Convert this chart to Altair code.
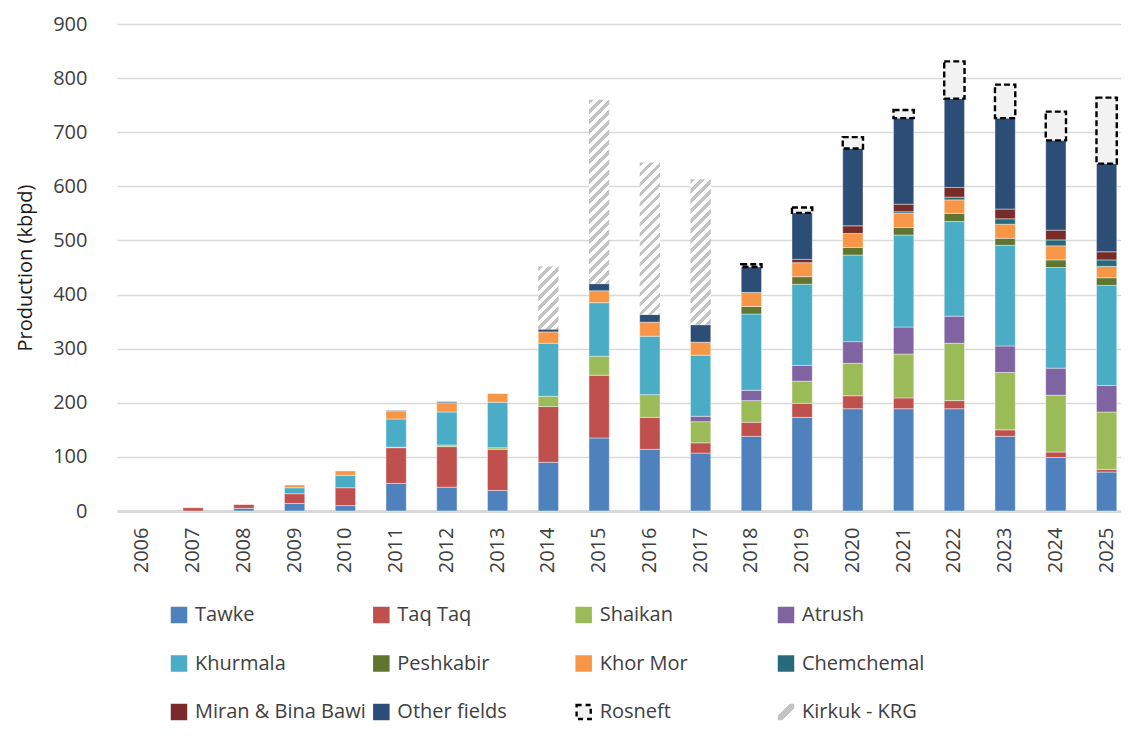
import altair as alt
import pandas as pd

years = [str(y) for y in range(2006, 2026)]

tawke      = [0, 0, 5, 14, 10, 51, 44, 38, 90, 135, 114, 107, 138, 173, 189, 189, 189, 138, 99, 72]
taq_taq    = [0, 6, 7, 18, 33, 66, 75, 76, 103, 116, 59, 19, 26, 26, 24, 20, 15, 12, 10, 5]
shaikan    = [0, 0, 0, 0, 0, 1, 3, 3, 19, 35, 42, 39, 40, 41, 60, 81, 106, 106, 105, 106]
atrush     = [0, 0, 0, 0, 0, 0, 0, 0, 0, 0, 0, 10, 19, 29, 40, 50, 50, 49, 50, 49]
khurmala   = [0, 0, 0, 11, 23, 52, 61, 84, 98, 99, 108, 113, 141, 150, 160, 170, 175, 186, 186, 185]
peshkabir  = [0, 0, 0, 0, 0, 0, 0, 0, 0, 0, 0, 0, 14, 14, 14, 14, 15, 13, 14, 14]
khor_mor   = [0, 0, 1, 5, 8, 15, 17, 16, 21, 22, 26, 24, 26, 26, 26, 26, 25, 26, 26, 21]
chemchemal = [0, 0, 0, 0, 0, 0, 0, 0, 0, 0, 0, 0, 0, 0, 0, 3, 5, 10, 11, 12]
miran      = [0, 0, 0, 0, 0, 0, 0, 0, 0, 0, 0, 0, 0, 6, 14, 14, 18, 18, 18, 15]
other      = [0, 0, 0, 0, 0, 1, 2, 0, 5, 13, 14, 32, 47, 86, 143, 159, 164, 168, 166, 163]
rosneft    = [0, 0, 0, 0, 0, 0, 0, 0, 0, 0, 0, 0, 5, 10, 21, 15, 69, 62, 53, 122]
kirkuk     = [0, 0, 0, 0, 0, 0, 0, 0, 116, 340, 281, 269, 0, 0, 0, 0, 0, 0, 0, 0]

field_names = ["Tawke", "Taq Taq", "Shaikan", "Atrush", "Khurmala", "Peshkabir",
               "Khor Mor", "Chemchemal", "Miran & Bina Bawi", "Other fields"]
field_colors = ["#4f81bd", "#c0504d", "#9bbb59", "#8064a2", "#4bacc6", "#5f7530",
                "#f79646", "#276a7c", "#772c2a", "#2c4d75"]
all_series = field_names + ["Rosneft", "Kirkuk - KRG"]
series_values = [tawke, taq_taq, shaikan, atrush, khurmala, peshkabir, khor_mor,
                 chemchemal, miran, other, rosneft, kirkuk]

rows = []
for order, (name, vals) in enumerate(zip(all_series, series_values)):
    for y, v in zip(years, vals):
        rows.append({"year": y, "series": name, "value": v, "order": order})
df = pd.DataFrame(rows)

# ---- layout constants
W, H = 1004, 487          # visible plot area
XRANGE = 1015             # band range (continues slightly past the right edge)
YMAX = 900
PAD_IN = 0.6
bandw = XRANGE / len(years) * (1 - PAD_IN)
FONT = "Open Sans"
TXT = "#404040"
HATCH = "#c3c3c3"

xscale = alt.Scale(domain=years, range=[0, XRANGE], paddingInner=PAD_IN, paddingOuter=PAD_IN / 2)
yscale = alt.Scale(domain=[0, YMAX], nice=False)

xaxis = alt.Axis(title=None, labelAngle=270, labelPadding=16, ticks=False,
                 domain=True, domainColor="#d9d9d9", domainWidth=3,
                 labelFontSize=20, labelFont=FONT, labelColor=TXT, grid=False)
yaxis = alt.Axis(title="Production (kbpd)", values=list(range(0, 1000, 100)),
                 grid=True, gridColor="#d9d9d9", gridWidth=1.6, domain=False,
                 ticks=False, labelPadding=30, labelFontSize=20, labelFont=FONT,
                 labelColor=TXT, titleFontSize=20, titleFont=FONT,
                 titleFontWeight="normal", titleColor="#1a1a1a",
                 titleX=-92, titleY=H / 2, titleAlign="center",
                 titleBaseline="middle", titleAngle=270)

base = alt.Chart(df).transform_filter(alt.datum.value > 0).transform_stack(
    stack="value", groupby=["year"], as_=["v0", "v1"],
    sort=[alt.SortField("order", order="ascending")])

fields = base.transform_filter(alt.datum.order < 10).mark_bar(
    stroke="white", strokeWidth=0.6, strokeOpacity=0.7).encode(
    x=alt.X("year:N", scale=xscale, axis=xaxis, sort=years),
    y=alt.Y("v0:Q", scale=yscale, axis=yaxis),
    y2="v1:Q",
    color=alt.Color("series:N", scale=alt.Scale(domain=field_names, range=field_colors),
                    legend=None),
)

ros = base.transform_filter(alt.datum.series == "Rosneft").mark_bar(
    fill="#f2f2f2", stroke="black", strokeDash=[6, 3], strokeWidth=2.4).encode(
    x=alt.X("year:N", scale=xscale, axis=None, sort=years),
    y=alt.Y("v0:Q", scale=yscale, axis=None),
    y2="v1:Q",
)


def hatch(h, w, period=10.0, on=4.5):
    ratio = h / w
    denom = w * (1 + ratio ** 2)
    stops = []
    c = -period
    while c < w + h + period:
        a = max(c, 0.0) / denom
        b = max(c + on, 0.0) / denom
        e = max(c + period, 0.0) / denom
        stops += [{"offset": min(a, 1), "color": HATCH},
                  {"offset": min(b, 1), "color": HATCH},
                  {"offset": min(b, 1), "color": "white"},
                  {"offset": min(e, 1), "color": "white"}]
        c += period
    return {"gradient": "linear", "x1": 0, "y1": 0, "x2": 1, "y2": ratio, "stops": stops}


kirkuk_layers = []
for y, v in zip(years, kirkuk):
    if v > 0:
        hpx = v * H / YMAX
        kirkuk_layers.append(
            base.transform_filter((alt.datum.series == "Kirkuk - KRG") & (alt.datum.year == y))
            .mark_bar(fill=hatch(hpx, bandw), strokeWidth=0)
            .encode(x=alt.X("year:N", scale=xscale, axis=None, sort=years),
                    y=alt.Y("v0:Q", scale=yscale, axis=None),
                    y2="v1:Q")
        )

# ---- custom legend (4 columns x 3 rows)
leg = pd.DataFrame({
    "series": all_series,
    "col": [i % 4 for i in range(len(all_series))],
    "row": [i // 4 for i in range(len(all_series))],
})
lx = alt.Scale(domain=[0, 3], range=[62, 669])
ly = alt.Scale(domain=[0, 2], range=[591, 688])
legbase = alt.Chart(leg)
SQ = 272

leg_sq = legbase.transform_filter(alt.FieldOneOfPredicate(field="series", oneOf=field_names)).mark_square(
    size=SQ, opacity=1, filled=True).encode(
    x=alt.X("col:Q", scale=lx, axis=None),
    y=alt.Y("row:Q", scale=ly, axis=None),
    color=alt.Color("series:N", scale=alt.Scale(domain=field_names, range=field_colors),
                    legend=None),
)
leg_ros = legbase.transform_filter(alt.datum.series == "Rosneft").mark_square(
    size=200, fill="#f2f2f2", stroke="black", strokeDash=[5, 4], strokeWidth=2.4,
    opacity=1).encode(
    x=alt.X("col:Q", scale=lx, axis=None),
    y=alt.Y("row:Q", scale=ly, axis=None),
)
leg_kir = legbase.transform_filter(alt.datum.series == "Kirkuk - KRG").mark_square(
    size=SQ, opacity=1,
    fill={"gradient": "linear", "x1": 0, "y1": 0, "x2": 1, "y2": 1,
          "stops": [{"offset": 0, "color": "white"}, {"offset": 0.36, "color": "white"},
                    {"offset": 0.36, "color": HATCH}, {"offset": 0.64, "color": HATCH},
                    {"offset": 0.64, "color": "white"}, {"offset": 1, "color": "white"}]},
    strokeWidth=0).encode(
    x=alt.X("col:Q", scale=lx, axis=None),
    y=alt.Y("row:Q", scale=ly, axis=None),
)
leg_txt = legbase.mark_text(align="left", baseline="middle", dx=16, fontSize=20,
                            font=FONT, color=TXT).encode(
    x=alt.X("col:Q", scale=lx, axis=None),
    y=alt.Y("row:Q", scale=ly, axis=None),
    text="series:N",
)

chart = alt.layer(fields, ros, *kirkuk_layers, leg_sq, leg_ros, leg_kir, leg_txt).resolve_scale(
    x="independent", y="independent", color="independent"
).properties(
    width=W, height=H,
    autosize=alt.AutoSizeParams(type="none"),
    padding={"left": 109, "top": 16, "right": 0, "bottom": 213},
).configure_view(stroke=None)

chart.save("out.html", embed_options={"renderer": "svg", "actions": False})
